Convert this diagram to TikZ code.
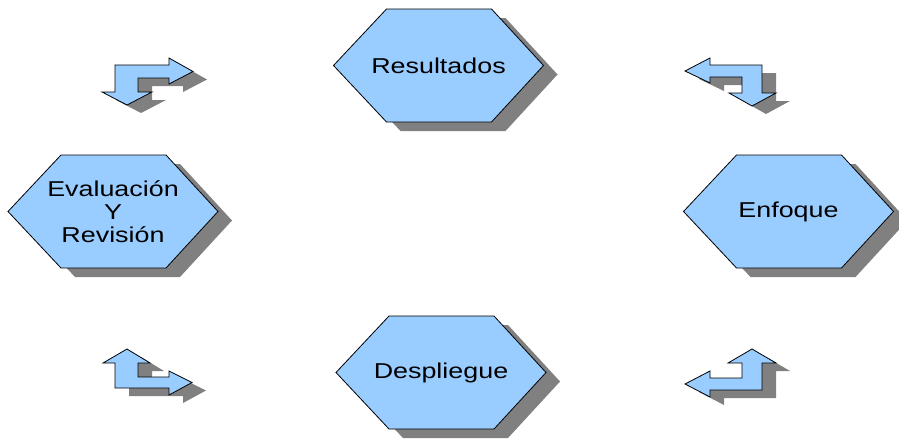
\documentclass[tikz,border=0pt]{standalone}
\usepackage{fontspec}
\usepackage{graphicx}
\setmainfont{Liberation Sans}
\definecolor{hexblue}{HTML}{99CCFF}
\definecolor{shadowc}{HTML}{808080}
\newcommand{\wtxt}[1]{\scalebox{1.25}[1]{#1}}
\tikzset{
  shapefill/.style={fill=hexblue, draw=black, line width=0.8pt, line join=miter},
  shadowfill/.style={fill=shadowc},
  hextext/.style={align=center, inner sep=0pt, font=\fontsize{21.5}{23.3}\selectfont},
}
\newcommand{\hexshape}{(-105,0) -- (-52,-56.5) -- (53,-56.5) -- (105,0) -- (53,56.5) -- (-52,56.5) -- cycle}
\newcommand{\hexbox}[4]{%
  \begin{scope}[shift={(#2,#3)}]
    \fill[shadowfill, shift={(14,9)}] \hexshape;
    \draw[shapefill] \hexshape;
    \node[hextext] (#1) at (0,0) {#4};
  \end{scope}}
\begin{document}
\begin{tikzpicture}[x=1pt,y=-1pt]
\useasboundingbox[fill=white] (0,0) rectangle (899,439);

\hexbox{res}{438.5}{65.5}{\wtxt{Resultados}}
\hexbox{eva}{113}{211.5}{\wtxt{Evaluación}\\\wtxt{Y}\\\wtxt{Revisión}}
\hexbox{enf}{788.5}{211.5}{\wtxt{Enfoque}}
\hexbox{des}{441}{372.5}{\wtxt{Despliegue}}

% top-left arrow
\newcommand{\arrowA}{(115,65) -- (169,65) -- (169,58) -- (193,71.5) -- (169,84) -- (169,78) -- (138,78) -- (138,92) -- (152,92) -- (127,105) -- (102,92) -- (115,92) -- cycle}
% top-right arrow
\newcommand{\arrowB}{(762,65) -- (762,93) -- (776,93) -- (752,106) -- (729,93) -- (742,93) -- (742,77) -- (710,77) -- (710,83) -- (685,71) -- (710,58) -- (710,65) -- cycle}
% bottom-left arrow
\newcommand{\arrowC}{(115,388) -- (115,363) -- (103,363) -- (127,349) -- (150,363) -- (138,363) -- (138,377) -- (169,377) -- (169,371) -- (192,382.5) -- (169,395) -- (169,388) -- cycle}
% bottom-right arrow
\newcommand{\arrowD}{(762,390) -- (710,390) -- (710,397) -- (685,384) -- (710,371) -- (710,378) -- (742,378) -- (742,363) -- (728,363) -- (752,349) -- (776,363) -- (762,363) -- cycle}

\fill[shadowfill, shift={(14,8)}] \arrowA;
\draw[shapefill] \arrowA;
\fill[shadowfill, shift={(14,8)}] \arrowB;
\draw[shapefill] \arrowB;
\fill[shadowfill, shift={(14,8)}] \arrowC;
\draw[shapefill] \arrowC;
\fill[shadowfill, shift={(14,8)}] \arrowD;
\draw[shapefill] \arrowD;
\end{tikzpicture}
\end{document}
